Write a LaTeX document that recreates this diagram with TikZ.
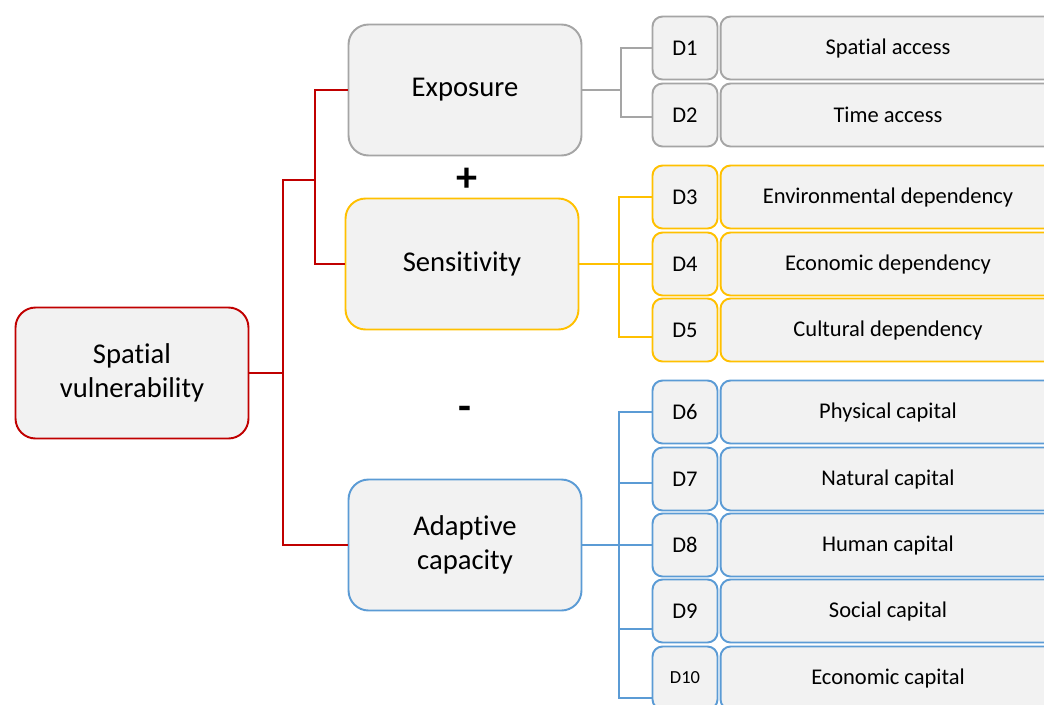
\documentclass[tikz,border=0pt]{standalone}
\usepackage{fontspec}
\setmainfont[RawFeature={-liga;-clig;-calt;-dlig}]{Carlito}
\usepackage{tikz}

\definecolor{svred}{RGB}{192,0,0}
\definecolor{svgray}{RGB}{165,165,165}
\definecolor{svyellow}{RGB}{255,192,0}
\definecolor{svblue}{RGB}{91,155,213}
\definecolor{svfill}{RGB}{242,242,242}

\begin{document}
\begin{tikzpicture}[x=0.02cm,y=-0.02cm,
  main/.style={draw,fill=svfill,rounded corners=0.4cm,line width=1.1pt,
    minimum width=4.66cm,minimum height=2.62cm,align=center,
    font=\fontsize{16.3}{19.5}\selectfont},
  dbox/.style={draw,fill=svfill,rounded corners=0.2cm,line width=1.1pt,
    minimum width=1.3cm,minimum height=1.26cm,font=\fontsize{12.8}{14}\selectfont},
  lbox/.style={dbox,minimum width=6.7cm},
  link/.style={line width=1.1pt}]
\useasboundingbox (0,0) rectangle (1044,704);

\node[main,draw=svred] (sv) at (132,373) {Spatial\\vulnerability};
\node[main,draw=svgray] (exp) at (465,90) {Exposure};
\node[main,draw=svyellow] (sen) at (462,264) {Sensitivity};
\node[main,draw=svblue] (ada) at (465,545) {Adaptive\\capacity};

\node[font=\bfseries\fontsize{24}{24}\selectfont] (plus) at (467,180) {+};
\node[font=\bfseries\fontsize{24}{24}\selectfont] (minus) at (465,413) {-};

% dimensions
\foreach \n/\y/\c/\t in {1/48/svgray/Spatial access, 2/115/svgray/Time access,
    3/197/svyellow/Environmental dependency, 4/264/svyellow/Economic dependency,
    5/330/svyellow/Cultural dependency, 6/412/svblue/Physical capital,
    7/479/svblue/Natural capital, 8/545/svblue/Human capital,
    9/611/svblue/Social capital} {
  \node[dbox,draw=\c] (d\n) at (685,\y) {D\n};
  \node[lbox,draw=\c] (l\n) at (888,\y) {\t};
}
\node[dbox,draw=svblue,font=\fontsize{10.5}{12}\selectfont] (d10) at (685,678) {D10};
\node[lbox,draw=svblue] (l10) at (888,678) {Economic capital};

% red tree
\coordinate (r1) at (283,180);
\coordinate (r2) at (315,180);
\draw[link,svred] (sv.east) -| (r1) -- (r2);
\draw[link,svred] (r1) |- (ada.west);
\draw[link,svred] (exp.west) -| (r2) |- (sen.west);

% exposure
\coordinate (g) at (621,90);
\draw[link,svgray] (exp.east) -- (g);
\draw[link,svgray] (d1.west) -| (g) |- (d2.west |- 0,117);

% sensitivity
\coordinate (y) at (619,264);
\draw[link,svyellow] (sen.east) -- (d4.west);
\draw[link,svyellow] (d3.west) -| (y) |- (d5.west |- 0,337);

% adaptive capacity
\coordinate (b) at (619,545);
\draw[link,svblue] (ada.east) -- (d8.west);
\draw[link,svblue] (d6.west) -| (b) |- (d10.west |- 0,698);
\draw[link,svblue] (b |- 0,483) -- (d7.west |- 0,483);
\draw[link,svblue] (b |- 0,629) -- (d9.west |- 0,629);
\end{tikzpicture}
\end{document}
